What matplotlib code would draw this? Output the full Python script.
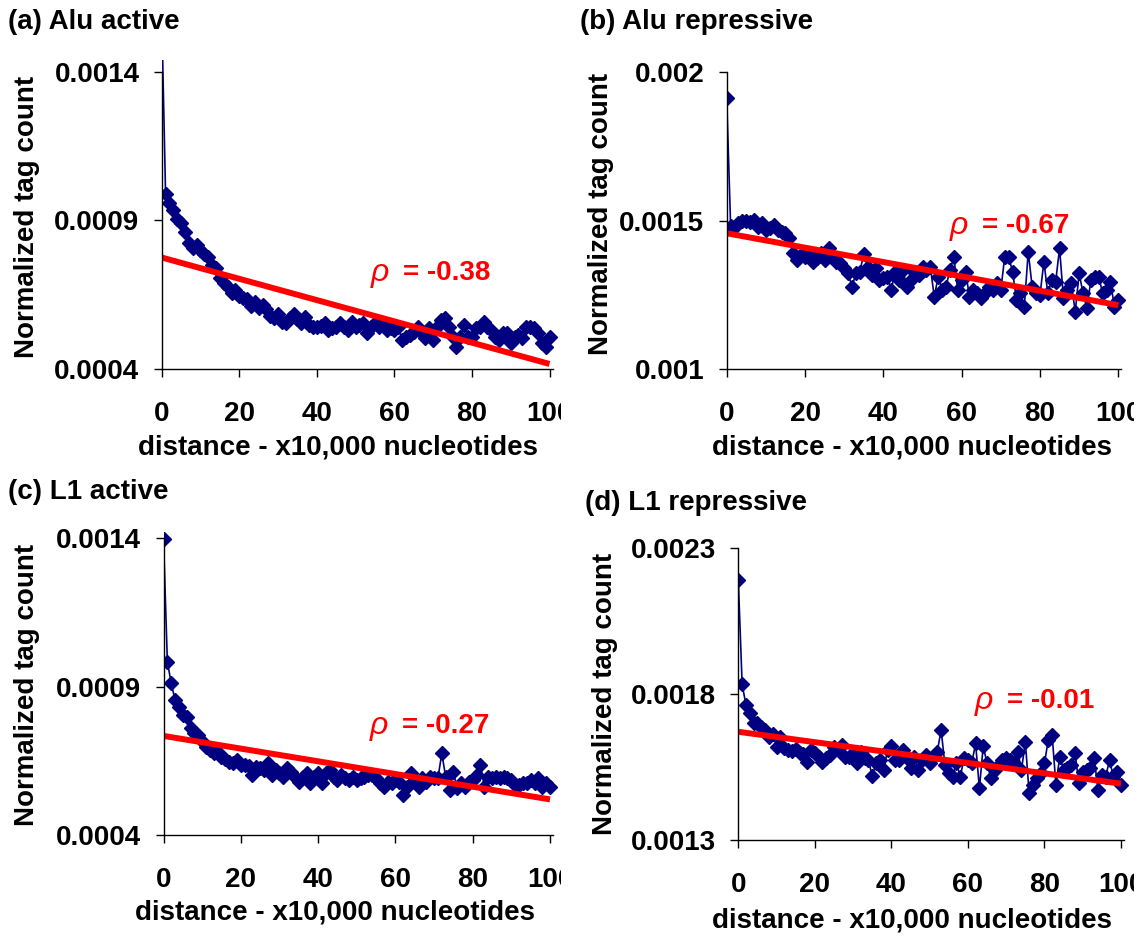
import matplotlib
matplotlib.use("Agg")
import matplotlib.pyplot as plt
from matplotlib.transforms import Bbox, TransformedBbox

plt.rcParams['font.family'] = ['Liberation Sans', 'DejaVu Sans']
plt.rcParams['font.weight'] = 'bold'

W, H = 1142, 939

# x positions: distance in units of 10,000 nucleotides
distance = list(range(101))

alu_active = [
    0.00159, 0.000988, 0.000958, 0.000935, 0.000904, 0.000891, 0.000862, 0.000825, 0.000806, 0.000818,
    0.000801, 0.000786, 0.000778, 0.000750, 0.000739, 0.000705, 0.000689, 0.000677, 0.000655, 0.000666,
    0.000644, 0.000638, 0.000635, 0.000612, 0.000627, 0.000604, 0.000615, 0.000601, 0.000578, 0.000573,
    0.000585, 0.000559, 0.000554, 0.000573, 0.000585, 0.000567, 0.000554, 0.000574, 0.000548, 0.000542,
    0.000542, 0.000545, 0.000554, 0.000531, 0.000537, 0.000542, 0.000554, 0.000542, 0.000531, 0.000559,
    0.000542, 0.000548, 0.000554, 0.000520, 0.000542, 0.000554, 0.000542, 0.000548, 0.000531, 0.000537,
    0.000531, 0.000542, 0.000498, 0.000509, 0.000514, 0.000526, 0.000542, 0.000520, 0.000503, 0.000537,
    0.000498, 0.000542, 0.000565, 0.000571, 0.000542, 0.000509, 0.000475, 0.000509, 0.000548, 0.000509,
    0.000509, 0.000537, 0.000542, 0.000559, 0.000542, 0.000531, 0.000509, 0.000498, 0.000520, 0.000520,
    0.000486, 0.000509, 0.000514, 0.000503, 0.000542, 0.000542, 0.000537, 0.000520, 0.000486, 0.000475,
    0.000509,
]

alu_repressive = [
    0.001912, 0.001484, 0.001480, 0.001492, 0.001500, 0.001500, 0.001497, 0.001503, 0.001480, 0.001492,
    0.001469, 0.001475, 0.001486, 0.001469, 0.001463, 0.001458, 0.001441, 0.001391, 0.001368, 0.001385,
    0.001379, 0.001391, 0.001362, 0.001374, 0.001391, 0.001368, 0.001407, 0.001379, 0.001362, 0.001357,
    0.001340, 0.001323, 0.001278, 0.001323, 0.001329, 0.001388, 0.001346, 0.001318, 0.001340, 0.001301,
    0.001306, 0.001312, 0.001267, 0.001329, 0.001301, 0.001334, 0.001278, 0.001301, 0.001323, 0.001318,
    0.001346, 0.001334, 0.001346, 0.001244, 0.001312, 0.001267, 0.001278, 0.001334, 0.001377, 0.001267,
    0.001301, 0.001329, 0.001244, 0.001267, 0.001256, 0.001239, 0.001256, 0.001278, 0.001267, 0.001290,
    0.001267, 0.001379, 0.001379, 0.001329, 0.001233, 0.001256, 0.001211, 0.001396, 0.001278, 0.001256,
    0.001250, 0.001362, 0.001256, 0.001301, 0.001295, 0.001407, 0.001239, 0.001267, 0.001290, 0.001194,
    0.001323, 0.001256, 0.001205, 0.001301, 0.001312, 0.001312, 0.001256, 0.001267, 0.001295, 0.001211,
    0.001233,
]

l1_active = [
    0.001397, 0.000984, 0.000911, 0.000855, 0.000832, 0.000804, 0.000799, 0.000760, 0.000743, 0.000737,
    0.000718, 0.000698, 0.000686, 0.000675, 0.000681, 0.000664, 0.000655, 0.000647, 0.000642, 0.000653,
    0.000636, 0.000636, 0.000633, 0.000602, 0.000630, 0.000625, 0.000619, 0.000642, 0.000602, 0.000619,
    0.000608, 0.000597, 0.000625, 0.000613, 0.000597, 0.000580, 0.000597, 0.000608, 0.000574, 0.000597,
    0.000608, 0.000574, 0.000608, 0.000619, 0.000597, 0.000585, 0.000602, 0.000591, 0.000585, 0.000597,
    0.000585, 0.000591, 0.000597, 0.000602, 0.000602, 0.000591, 0.000574, 0.000563, 0.000580, 0.000574,
    0.000585, 0.000580, 0.000535, 0.000563, 0.000608, 0.000585, 0.000563, 0.000591, 0.000580, 0.000597,
    0.000591, 0.000591, 0.000675, 0.000597, 0.000552, 0.000613, 0.000557, 0.000574, 0.000563, 0.000580,
    0.000585, 0.000602, 0.000636, 0.000563, 0.000597, 0.000591, 0.000597, 0.000591, 0.000597, 0.000591,
    0.000585, 0.000569, 0.000569, 0.000574, 0.000574, 0.000585, 0.000574, 0.000591, 0.000563, 0.000574,
    0.000563,
]

l1_repressive = [
    0.002191, 0.001834, 0.001763, 0.001734, 0.001700, 0.001702, 0.001688, 0.001677, 0.001654, 0.001663,
    0.001620, 0.001654, 0.001614, 0.001609, 0.001606, 0.001611, 0.001597, 0.001595, 0.001568, 0.001609,
    0.001599, 0.001586, 0.001568, 0.001580, 0.001591, 0.001620, 0.001609, 0.001626, 0.001586, 0.001586,
    0.001595, 0.001563, 0.001603, 0.001580, 0.001574, 0.001519, 0.001563, 0.001574, 0.001540, 0.001609,
    0.001622, 0.001574, 0.001574, 0.001609, 0.001580, 0.001546, 0.001586, 0.001540, 0.001574, 0.001591,
    0.001563, 0.001586, 0.001603, 0.001677, 0.001557, 0.001529, 0.001517, 0.001563, 0.001517, 0.001580,
    0.001574, 0.001563, 0.001631, 0.001477, 0.001622, 0.001563, 0.001511, 0.001540, 0.001557, 0.001574,
    0.001580, 0.001574, 0.001563, 0.001603, 0.001540, 0.001637, 0.001460, 0.001489, 0.001511, 0.001529,
    0.001563, 0.001643, 0.001660, 0.001489, 0.001586, 0.001540, 0.001546, 0.001557, 0.001597, 0.001494,
    0.001534, 0.001540, 0.001546, 0.001580, 0.001471, 0.001523, 0.001517, 0.001574, 0.001517, 0.001534,
    0.001489,
]

# linear trend lines, value at distance 0 and at distance 100
alu_active_trend = [0.000775, 0.000417]
alu_repressive_trend = [0.001458, 0.001216]
l1_active_trend = [0.000734, 0.000520]
l1_repressive_trend = [0.001671, 0.001493]

alu_active_yticks = [0.0004, 0.0009, 0.0014]
alu_repressive_yticks = [0.001, 0.0015, 0.002]
l1_active_yticks = [0.0004, 0.0009, 0.0014]
l1_repressive_yticks = [0.0013, 0.0018, 0.0023]

alu_active_ylabels = ["0.0004", "0.0009", "0.0014"]
alu_repressive_ylabels = ["0.001", "0.0015", "0.002"]
l1_active_ylabels = ["0.0004", "0.0009", "0.0014"]
l1_repressive_ylabels = ["0.0013", "0.0018", "0.0023"]

xticks = [0, 20, 40, 60, 80, 100]
rho_labels = ["= -0.38", "= -0.67", "= -0.27", "= -0.01"]
titles = ["(a) Alu active", "(b) Alu repressive", "(c) L1 active", "(d) L1 repressive"]

FS = 20
NAVY = "#000080"

fig = plt.figure(figsize=(W / 100, H / 100), dpi=100)


def fx(x):
    return x / W


def fy(y):
    return 1 - y / H


def draw_panel(box, counts, trend, yticks, ylabels, title, title_xy, ylab_xy, xlab_xy,
               rho, rho_xy, clip_right):
    left, top, right, bottom = box
    ax = fig.add_axes([fx(left), fy(bottom), (right - left) * 1.008 / W, (bottom - top) / H])
    line, = ax.plot(distance, counts, color=NAVY, lw=1.2, marker="D", ms=7)
    # excel lets the line run a little past the top of the plot area
    line.set_clip_box(TransformedBbox(Bbox([[0, 0], [1.01, 1.04]]), ax.transAxes))
    ax.plot([distance[0], distance[-1]], trend, color="red", lw=4.3, solid_capstyle="butt")

    ax.set_xlim(0, 100.8)
    ax.set_ylim(yticks[0], yticks[-1])
    ax.set_xticks(xticks)
    ax.set_yticks(yticks)
    ax.set_yticklabels(ylabels)
    for s in ["top", "right"]:
        ax.spines[s].set_visible(False)
    for s in ["left", "bottom"]:
        ax.spines[s].set_linewidth(1.0)
    ax.tick_params(axis="both", direction="out", length=6, width=1, labelsize=FS)
    ax.tick_params(axis="x", pad=17)
    ax.tick_params(axis="y", pad=10)
    ax.patch.set_visible(False)

    # the original picture is cropped, cutting the "100" label short
    clip = Bbox.from_extents(0, 0, clip_right, H)
    for lab in ax.get_xticklabels():
        lab.set_clip_on(True)
        lab.set_clip_box(clip)

    fig.text(fx(title_xy[0]), fy(title_xy[1]), title, fontsize=FS, ha="left", va="center")
    fig.text(fx(ylab_xy[0]), fy(ylab_xy[1]), "Normalized tag count", fontsize=FS,
             rotation=90, ha="center", va="center")
    fig.text(fx(xlab_xy[0]), fy(xlab_xy[1]), "distance - x10,000 nucleotides", fontsize=FS,
             ha="center", va="center")
    fig.text(fx(rho_xy[0]), fy(rho_xy[1]), "\u03c1", fontsize=23, color="red",
             style="italic", weight="normal", ha="left", va="center")
    fig.text(fx(rho_xy[0] + 32), fy(rho_xy[1]), rho, fontsize=FS, color="red",
             ha="left", va="center")
    return ax


draw_panel((161.7, 71.7, 549.5, 369.0), alu_active, alu_active_trend,
           alu_active_yticks, alu_active_ylabels, titles[0],
           (8, 22), (27, 217), (338, 447), rho_labels[0], (371, 273), 561)
draw_panel((726.7, 72.3, 1118.3, 369.3), alu_repressive, alu_repressive_trend,
           alu_repressive_yticks, alu_repressive_ylabels, titles[1],
           (580, 22), (601, 214), (912, 447), rho_labels[1], (950, 226), 1134)
draw_panel((163.5, 538.3, 550.0, 835.0), l1_active, l1_active_trend,
           l1_active_yticks, l1_active_ylabels, titles[2],
           (8, 492), (27, 685), (335, 913), rho_labels[2], (370, 726), 561)
draw_panel((738.3, 548.3, 1121.0, 840.0), l1_repressive, l1_repressive_trend,
           l1_repressive_yticks, l1_repressive_ylabels, titles[3],
           (585, 503), (605, 694), (912, 920), rho_labels[3], (975, 701), 1134)

fig.savefig("out.png", dpi=100)
